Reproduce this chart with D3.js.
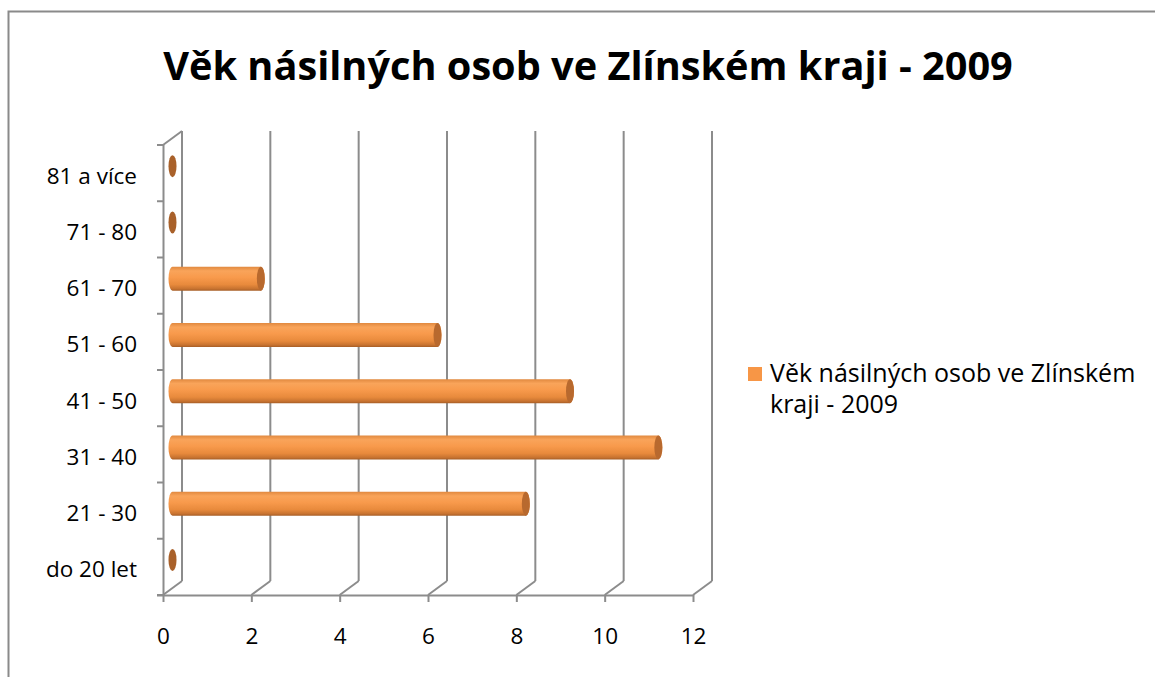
<!DOCTYPE html>
<html>
<head>
<meta charset="utf-8">
<script src="https://cdn.jsdelivr.net/npm/d3@7"></script>
<style>
  html, body { margin: 0; padding: 0; background: #fff; }
  svg { display: block; }
  text { font-family: "Open Sans", Lato, sans-serif; fill: #000; }
</style>
</head>
<body>
<svg id="chart" width="1155" height="677"></svg>
<script>
// Age groups of violent persons, Zlín region, 2009
const categories = ["do 20 let", "21 - 30", "31 - 40", "41 - 50", "51 - 60", "61 - 70", "71 - 80", "81 a více"];
const values = [0, 8, 11, 9, 6, 2, 0, 0];
const xTicks = [0, 2, 4, 6, 8, 10, 12];
const titleText = "Věk násilných osob ve Zlínském kraji - 2009";
const legendLines = ["Věk násilných osob ve Zlínském", "kraji - 2009"];

const svg = d3.select("#chart");
const W = 1155, H = 677;
const labelFont = "'Open Sans', Lato, sans-serif";
const labelSize = 22.5;

// depth offset of the 3D plot (back wall relative to front)
const depth = { dx: 19, dy: -14 };
const gridColor = "#8c8c8c";

const x = d3.scaleLinear().domain([0, 12]).range([163, 693]);
const y = d3.scaleBand().domain(categories.slice().reverse()).range([145, 595]).paddingInner(0).paddingOuter(0);

// chart frame
svg.append("path")
  .attr("d", `M8.5,${H} L8.5,11.5 L${W},11.5`)
  .attr("fill", "none").attr("stroke", "#8a8a8a").attr("stroke-width", 2);

// gradient for cylinders
const defs = svg.append("defs");
const grad = defs.append("linearGradient").attr("id", "cyl").attr("x1", 0).attr("y1", 0).attr("x2", 0).attr("y2", 1);
[["0%", "#e0883e"], ["18%", "#f9a45a"], ["45%", "#f89a4c"], ["75%", "#e88a3c"], ["92%", "#c87330"], ["100%", "#a85f27"]]
  .forEach(([o, c]) => grad.append("stop").attr("offset", o).attr("stop-color", c));

const g = svg.append("g");

// back-wall gridlines
g.selectAll("line.grid").data(xTicks).join("line")
  .attr("class", "grid")
  .attr("x1", d => x(d) + depth.dx).attr("x2", d => x(d) + depth.dx)
  .attr("y1", 145 + depth.dy).attr("y2", 595 + depth.dy)
  .attr("stroke", gridColor).attr("stroke-width", 2);

// floor diagonals
g.selectAll("line.floor").data(xTicks).join("line")
  .attr("x1", d => x(d)).attr("y1", 595)
  .attr("x2", d => x(d) + depth.dx).attr("y2", 595 + depth.dy)
  .attr("stroke", gridColor).attr("stroke-width", 2);

// side wall top edge
g.append("line")
  .attr("x1", x(0)).attr("y1", 145)
  .attr("x2", x(0) + depth.dx).attr("y2", 145 + depth.dy)
  .attr("stroke", gridColor).attr("stroke-width", 2);

// value axis (front floor edge) with ticks
const xAxis = d3.axisBottom(x).tickValues(xTicks).tickSize(7).tickSizeOuter(0).tickPadding(26);
const xa = svg.append("g").attr("transform", "translate(0,595)").call(xAxis);
xa.select(".domain").attr("stroke", gridColor).attr("stroke-width", 2)
  .attr("d", `M157,0.5H${x(12)}`);
xa.selectAll(".tick line").attr("stroke", gridColor).attr("stroke-width", 2);
xa.selectAll(".tick text").attr("font-family", labelFont).attr("font-size", labelSize).attr("fill", "#000");

// category axis (front side edge) with ticks at band boundaries
const yAxis = d3.axisLeft(y).tickSize(0).tickPadding(26);
const ya = svg.append("g").attr("transform", `translate(${x(0)},0)`).call(yAxis);
ya.select(".domain").attr("stroke", gridColor).attr("stroke-width", 2)
  .attr("d", `M0.5,${y.range()[0]}V${y.range()[1]}`);
ya.selectAll(".tick text")
  .attr("font-family", labelFont).attr("font-size", labelSize).attr("fill", "#000")
  .attr("dy", "0.55em").attr("y", -2);
const bounds = categories.map(c => y(c)).concat([y.range()[1]]);
ya.selectAll("line.bnd").data(bounds).join("line")
  .attr("x1", -6).attr("x2", 0).attr("y1", d => d).attr("y2", d => d)
  .attr("stroke", gridColor).attr("stroke-width", 2);

// cylinders, centred at half depth
const cylH = 24, capRx = 4;
const half = { dx: depth.dx / 2, dy: depth.dy / 2 };
const bars = g.selectAll("g.bar").data(categories.map((c, i) => ({ c, v: values[i] }))).join("g").attr("class", "bar");
bars.each(function (d) {
  const sel = d3.select(this);
  const cy = y(d.c) + y.bandwidth() / 2 + half.dy;
  const x0 = x(0) + half.dx, x1 = x(d.v) + half.dx;
  const r = cylH / 2;
  if (d.v === 0) {
    sel.append("ellipse").attr("cx", x0).attr("cy", cy).attr("rx", capRx).attr("ry", r - 1)
      .attr("fill", "#a9612a");
    return;
  }
  sel.append("path")
    .attr("d", `M${x0},${cy - r} L${x1},${cy - r} A${capRx},${r} 0 0 1 ${x1},${cy + r} L${x0},${cy + r} A${capRx},${r} 0 0 1 ${x0},${cy - r} Z`)
    .attr("fill", "url(#cyl)");
  sel.append("ellipse").attr("cx", x1).attr("cy", cy).attr("rx", capRx).attr("ry", r)
    .attr("fill", "#b8692e");
});

// title, sized to its span
const title = svg.append("text").attr("x", 588).attr("y", 80).attr("text-anchor", "middle")
  .attr("font-family", "Lato, 'Open Sans', sans-serif")
  .attr("font-weight", "bold").attr("font-size", 40).text(titleText);
const tw = title.node().getComputedTextLength();
title.attr("font-size", 40 * 850 / tw);

// legend, first line sized to its span
svg.append("rect").attr("x", 748).attr("y", 367).attr("width", 14).attr("height", 14).attr("fill", "#f79646");
const legendText = svg.append("text").attr("font-size", 22);
legendText.selectAll("tspan").data(legendLines).join("tspan")
  .attr("x", 770).attr("y", (d, i) => 382 + i * 31).text(d => d);
const lw = legendText.select("tspan").node().getComputedTextLength();
legendText.attr("font-size", Math.min(25, 22 * 367 / lw));
</script>
</body>
</html>
